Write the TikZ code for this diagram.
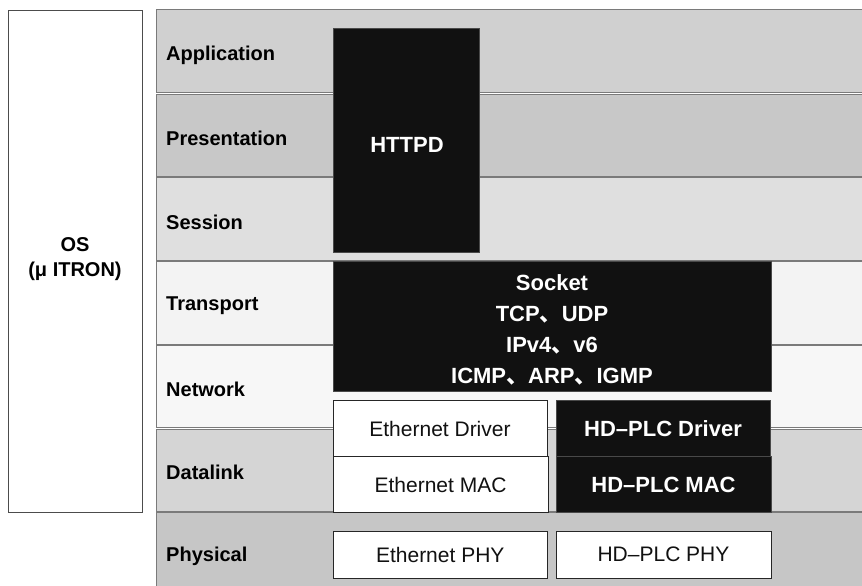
\documentclass[tikz,border=0pt]{standalone}
\usepackage{fontspec}
\setmainfont{Liberation Sans}
\newfontfamily\cjkfont{Noto Sans CJK JP}
\newcommand{\jc}{{\cjkfont 、}}
\definecolor{bandline}{HTML}{7A7A7A}
\definecolor{appc}{HTML}{D0D0D0}
\definecolor{presc}{HTML}{C8C8C8}
\definecolor{sessc}{HTML}{DFDFDF}
\definecolor{transc}{HTML}{F3F3F3}
\definecolor{netc}{HTML}{F7F7F7}
\definecolor{datac}{HTML}{D5D5D5}
\definecolor{physc}{HTML}{C6C6C6}
\definecolor{blk}{HTML}{111111}
\begin{document}
\begin{tikzpicture}[x=1pt,y=-1pt,
  band/.style={draw=bandline, line width=1pt, inner sep=0pt, minimum width=724pt},
  bandlabel/.style={anchor=west, inner sep=0pt, font=\bfseries\fontsize{20}{24}\selectfont, text=black},
  blackbox/.style={draw=bandline!60!black, line width=0.8pt, fill=blk, inner sep=0pt, text=white, font=\bfseries\fontsize{22}{31}\selectfont, align=center},
  whitebox/.style={draw=black!85, line width=0.8pt, fill=white, inner sep=0pt, text=blk, font=\fontsize{21}{25}\selectfont}
]
\useasboundingbox (0,0) rectangle (862,586);
\fill[white] (0,0) rectangle (862,586);

% OS box
\node[draw=black!70, line width=0.8pt, fill=white, minimum width=134pt, minimum height=502pt, inner sep=0pt] (os) at (75,261) {};
\node[align=center, inner sep=0pt, font=\bfseries\fontsize{20}{25}\selectfont] (ostext) at (75,259.5) {OS\\(μ ITRON)};

% layer bands
\node[band, fill=appc,   minimum height=82pt] (app)   at (518,51)    {};
\node[band, fill=presc,  minimum height=82pt] (pres)  at (518,135)   {};
\node[band, fill=sessc,  minimum height=83pt] (sess)  at (518,218.5) {};
\node[band, fill=transc, minimum height=83pt] (trans) at (518,302.5) {};
\node[band, fill=netc,   minimum height=82pt] (net)   at (518,386)   {};
\node[band, fill=datac,  minimum height=82pt] (data)  at (518,470)   {};
\node[band, fill=physc,  minimum height=88pt] (phys)  at (518,556)   {};

\node[bandlabel] (lapp)   at (166,55)  {Application};
\node[bandlabel] (lpres)  at (166,138) {Presentation};
\node[bandlabel] (lsess)  at (166,222) {Session};
\node[bandlabel] (ltrans) at (166,306) {Transport};
\node[bandlabel] (lnet)   at (166,389) {Network};
\node[bandlabel] (ldata)  at (166,472) {Datalink};
\node[bandlabel] (lphys)  at (166,556) {Physical};

% HTTPD
\node[blackbox, minimum width=146pt, minimum height=224pt] (httpd) at (406,140) {};
\node[text=white, inner sep=0pt, font=\bfseries\fontsize{22}{26}\selectfont] (httpdtext) at (407,145) {HTTPD};

% Socket / TCP/IP stack
\node[blackbox, minimum width=438pt, minimum height=130pt] (sock) at (552,326.5) {};
\node[text=white, inner sep=0pt, align=center, font=\bfseries\fontsize{22}{31}\selectfont] (socktext) at (552,330)
  {Socket\\TCP\jc UDP\\IPv4\jc v6\\ICMP\jc ARP\jc IGMP};

% Datalink boxes
\node[whitebox, minimum width=214pt, minimum height=56pt] (ethdrv) at (440,428.5) {Ethernet Driver};
\node[blackbox, minimum width=214pt, minimum height=56pt] (plcdrv) at (663,428.5) {HD–PLC Driver};
\node[whitebox, minimum width=215pt, minimum height=56pt] (ethmac) at (440.5,484.5) {Ethernet MAC};
\node[blackbox, minimum width=215pt, minimum height=56pt] (plcmac) at (663.5,484.5) {HD–PLC MAC};

% Physical boxes
\node[whitebox, minimum width=214.5pt, minimum height=47pt] (ethphy) at (440.25,554.5) {Ethernet PHY};
\node[whitebox, minimum width=215pt, minimum height=47pt] (plcphy) at (663.5,554.5) {HD–PLC PHY};
\end{tikzpicture}
\end{document}
